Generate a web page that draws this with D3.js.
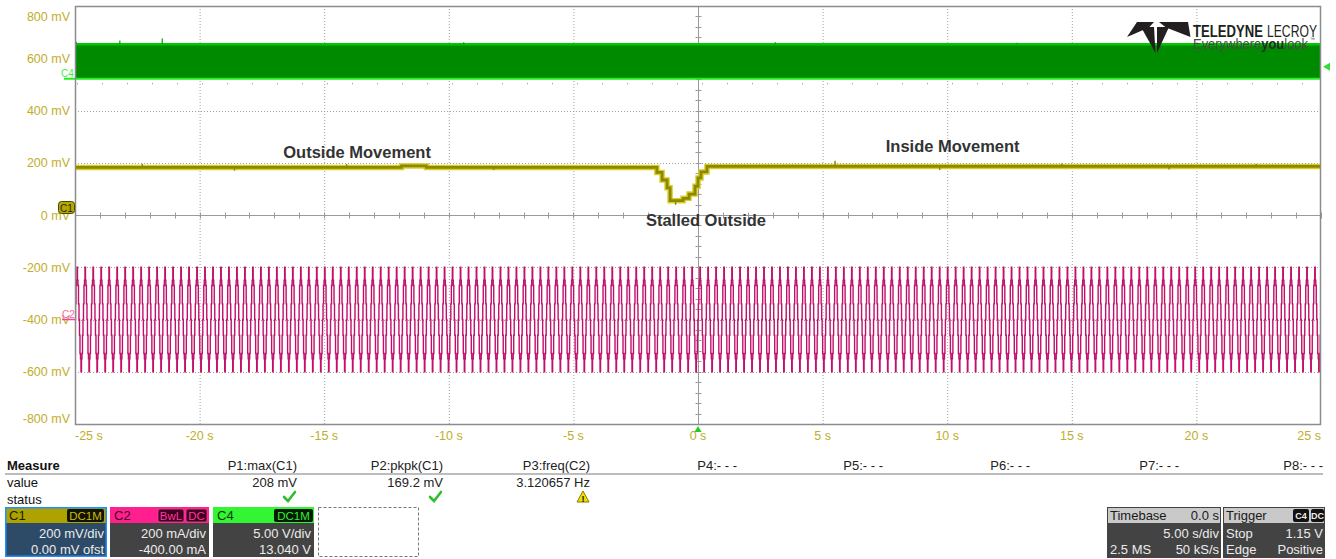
<!DOCTYPE html>
<html><head><meta charset="utf-8">
<script src="https://cdn.jsdelivr.net/npm/d3@7"></script>
<style>
body{margin:0;background:#fff;}
svg{display:block;font-family:"Liberation Sans",Arial,sans-serif;}
</style></head><body>
<svg id="scope" width="1336" height="559"></svg>
<script>
// ---- axis ticks ----
const timeTicks = [-25, -20, -15, -10, -5, 0, 5, 10, 15, 20, 25];      // s
const voltTicks = [800, 600, 400, 200, 0, -200, -400, -600, -800];      // mV (C1 grid)

// ---- C1 (mV): held levels, each value lasts until the next time ----
const c1Times  = [-25, -11.9, -10.9, -1.65, -1.44, -1.24, -1.12, -0.60, -0.36, -0.12, 0.00, 0.12, 0.36, 25];
const c1Values = [182, 188, 182, 163, 134, 104, 55, 64, 80, 110, 142, 165, 186, 186];
// short noise spikes on C1
const c1SpikeTimes  = [-22.3, -18.6, -14.1, -8.2, -0.9, 5.5, 9.7, 14.6, 18.9, 22.4];
const c1SpikeValues = [196, 170, 195, 172, 38.8, 208, 172, 197, 174, 195];

// ---- C2 (mA): one period of the stepped drive current ----
const c2CycleLevels = [0, 60, 130, 150, 200, 150, 130, 60, 0, -60, -130, -150, -200, -150, -130, -60];
const c2Freq = 3.120657; // Hz (P3 measurement)

// ---- C4 (V): PWM rails and glitches ----
const c4Levels = [3.3, 0.0];
const c4SpikeTimes  = [-24.95, -23.2, -21.5, -9.4, 3.1, 12.8];
const c4SpikeValues = [3.55, 3.65, 3.85, 3.5, 3.5, 3.45];

// ---- measurements / channel settings ----
const measNames  = ["P1:max(C1)", "P2:pkpk(C1)", "P3:freq(C2)", "P4:- - -", "P5:- - -", "P6:- - -", "P7:- - -", "P8:- - -"];
const measValues = ["208 mV", "169.2 mV", "3.120657 Hz", "", "", "", "", ""];
const measStatus = ["ok", "ok", "warn", "", "", "", "", ""];

const chNames  = ["C1", "C2", "C4"];
const chScale  = ["200 mV/div", "200 mA/div", "5.00 V/div"];
const chOffset = ["0.00 mV ofst", "-400.00 mA", "13.040 V"];

// ---- layout ----
const L = 75, R = 1321, T = 6, B = 424;
const svg = d3.select("#scope");

const x = d3.scaleLinear().domain([-25, 25]).range([L, R]);
const yC1 = d3.scaleLinear().domain([-800, 800]).range([B, T]);
// C2: 200 mA/div, offset -400 mA
const yC2 = d3.scaleLinear().domain([-4 * 200 + 400, 4 * 200 + 400]).range([B, T]);
// C4: 5 V/div, offset 13.04 V
const yC4 = d3.scaleLinear().domain([-4 * 5 - 13.04, 4 * 5 - 13.04]).range([B, T]);

// clip for traces
svg.append("defs").append("clipPath").attr("id", "plotClip")
  .append("rect").attr("x", L).attr("y", T).attr("width", R - L).attr("height", B - T);

// ---- grid ----
const grid = svg.append("g");
grid.selectAll("line.vg").data(timeTicks.filter(t => t !== 0 && t !== -25 && t !== 25)).join("line")
  .attr("x1", d => x(d) + 0.5).attr("x2", d => x(d) + 0.5).attr("y1", T).attr("y2", B)
  .attr("stroke", "#a0a0a0").attr("stroke-dasharray", "1,2");
grid.selectAll("line.hg").data(voltTicks.filter(v => v !== 0 && Math.abs(v) !== 800)).join("line")
  .attr("y1", d => Math.round(yC1(d)) + 0.5).attr("y2", d => Math.round(yC1(d)) + 0.5).attr("x1", L).attr("x2", R)
  .attr("stroke", "#a0a0a0").attr("stroke-dasharray", "1,2");

// center axes with minor ticks
const cx = Math.round(x(0)) + 0.5, cy = Math.round(yC1(0)) + 0.5;
grid.append("line").attr("x1", L).attr("x2", R).attr("y1", cy).attr("y2", cy).attr("stroke", "#9a9a9a");
grid.append("line").attr("x1", cx).attr("x2", cx).attr("y1", T).attr("y2", B).attr("stroke", "#9a9a9a");
grid.selectAll("line.mx").data(d3.range(-25, 25.001, 1)).join("line")
  .attr("x1", d => Math.round(x(d)) + 0.5).attr("x2", d => Math.round(x(d)) + 0.5)
  .attr("y1", cy - 3).attr("y2", cy + 3).attr("stroke", "#9a9a9a");
grid.selectAll("line.my").data(d3.range(-800, 800.001, 40)).join("line")
  .attr("y1", d => Math.round(yC1(d)) + 0.5).attr("y2", d => Math.round(yC1(d)) + 0.5)
  .attr("x1", cx - 3).attr("x2", cx + 3).attr("stroke", "#9a9a9a");

// ---- traces ----
const traces = svg.append("g").attr("clip-path", "url(#plotClip)");

// C4: fast PWM appears as a solid band between its rails
traces.append("rect").attr("x", L).attr("width", R - L)
  .attr("y", yC4(c4Levels[0])).attr("height", yC4(c4Levels[1]) - yC4(c4Levels[0]))
  .attr("fill", "#008a00");
traces.append("line").attr("x1", L).attr("x2", R).attr("y1", yC4(c4Levels[0])).attr("y2", yC4(c4Levels[0]))
  .attr("stroke", "#00c800").attr("stroke-width", 2.5);
traces.append("line").attr("x1", L).attr("x2", R).attr("y1", yC4(c4Levels[1])).attr("y2", yC4(c4Levels[1]))
  .attr("stroke", "#22ee22").attr("stroke-width", 2);
traces.append("line").attr("x1", L).attr("x2", R).attr("y1", yC4(c4Levels[1]) + 5).attr("y2", yC4(c4Levels[1]) + 5)
  .attr("stroke", "#6a9a6a").attr("stroke-dasharray", "1,24").attr("stroke-dashoffset", -2);
traces.selectAll("line.c4s").data(c4SpikeTimes).join("line")
  .attr("x1", d => x(d)).attr("x2", d => x(d))
  .attr("y1", yC4(c4Levels[0])).attr("y2", (d, i) => yC4(c4SpikeValues[i]))
  .attr("stroke", "#009a00").attr("stroke-width", 1.2);

// C2: stepped sinusoidal current repeated at the measured frequency
const period = 1 / c2Freq;
const stepDur = period / c2CycleLevels.length;
const c2Pts = [];
for (let k = 0, t = -25; t <= 25 + stepDur; k++, t = -25 + k * stepDur) {
  c2Pts.push([t, c2CycleLevels[k % c2CycleLevels.length]]);
}
traces.append("path").datum(c2Pts)
  .attr("d", d3.line().x(d => x(d[0])).y(d => yC2(d[1])).curve(d3.curveStepAfter))
  .attr("fill", "none").attr("stroke", "#c0106a").attr("stroke-width", 1.4);

// C1: motor load signal
const c1Pts = c1Times.map((t, i) => [t, c1Values[i]]);
const c1Line = d3.line().x(d => x(d[0])).y(d => yC1(d[1])).curve(d3.curveStepAfter);
traces.append("path").datum(c1Pts).attr("d", c1Line)
  .attr("fill", "none").attr("stroke", "#d6cf2a").attr("stroke-width", 5.5);
traces.append("path").datum(c1Pts).attr("d", c1Line)
  .attr("fill", "none").attr("stroke", "#8e8700").attr("stroke-width", 2.8);
const c1At = t => c1Values[Math.max(0, d3.bisectRight(c1Times, t) - 1)];
traces.selectAll("line.c1s").data(c1SpikeTimes).join("line")
  .attr("x1", d => x(d)).attr("x2", d => x(d))
  .attr("y1", d => yC1(c1At(d))).attr("y2", (d, i) => yC1(c1SpikeValues[i]))
  .attr("stroke", "#8e8700").attr("stroke-width", 1.4);

// frame
svg.append("rect").attr("x", L + 0.5).attr("y", T + 0.5).attr("width", R - L - 1).attr("height", B - T)
  .attr("fill", "none").attr("stroke", "#8c8c8c").attr("stroke-width", 1.5);

// ---- axis labels ----
const axisCol = "#bfae2c";
svg.selectAll("text.yl").data(voltTicks).join("text")
  .attr("x", 70).attr("y", d => Math.max(16, Math.min(418, yC1(d))) + 4.5)
  .attr("text-anchor", "end").attr("font-size", 12.5).attr("fill", axisCol)
  .text(d => `${d} mV`);
svg.selectAll("text.xl").data(timeTicks).join("text")
  .attr("x", d => x(d)).attr("y", 440)
  .attr("text-anchor", (d, i) => i === 0 ? "start" : i === timeTicks.length - 1 ? "end" : "middle")
  .attr("font-size", 12.5).attr("fill", axisCol)
  .text(d => `${d} s`);

// trigger position / level markers
svg.append("path").attr("d", `M${x(0) - 3.5},${B + 8} L${x(0) + 3.5},${B + 8} L${x(0)},${B + 2} Z`).attr("fill", "#22cc22");
svg.append("path").attr("d", `M${R + 2},${yC4(1.15)} L${R + 9},${yC4(1.15) - 4} L${R + 9},${yC4(1.15) + 4} Z`).attr("fill", "#33dd33");

// channel ground markers
const c1y = yC1(0);
svg.append("rect").attr("x", 58.5).attr("y", c1y - 13.5).attr("width", 16).attr("height", 12).attr("rx", 3)
  .attr("fill", "#b5a800").attr("stroke", "#4a4500");
svg.append("text").attr("x", 66.5).attr("y", c1y - 3.5).attr("text-anchor", "middle")
  .attr("font-size", 10).attr("fill", "#2a2800").text("C1");
const c2y = yC2(0);
svg.append("line").attr("x1", 62).attr("x2", L).attr("y1", c2y).attr("y2", c2y).attr("stroke", "#ff3fa0").attr("stroke-width", 1.5);
svg.append("text").attr("x", 62).attr("y", c2y - 1.5).attr("font-size", 10).attr("fill", "#ff5fae").text("C2");
const c4y = yC4(0);
svg.append("line").attr("x1", 64).attr("x2", L).attr("y1", c4y).attr("y2", c4y).attr("stroke", "#22ee22").attr("stroke-width", 2);
svg.append("text").attr("x", 61).attr("y", c4y - 1.5).attr("font-size", 10).attr("fill", "#44ee44").text("C4");

// ---- annotations ----
const notes = [
  { text: "Outside Movement", t: -13.68, v: 218 },
  { text: "Inside Movement", t: 10.22, v: 240 },
  { text: "Stalled Outside", t: 0.32, v: -42 }
];
svg.selectAll("text.note").data(notes).join("text")
  .attr("x", d => x(d.t)).attr("y", d => yC1(d.v))
  .attr("text-anchor", "middle").attr("font-size", 16.5).attr("font-weight", "bold").attr("fill", "#333")
  .text(d => d.text);

// ---- logo ----
const logo = svg.append("g").attr("fill", "#231f20");
logo.append("path").attr("d", "M1137,22 L1154,22 L1149,27.5 L1127,37 Z");
logo.append("path").attr("d", "M1159,22 L1188,22 L1190.5,37 L1166,27.5 Z");
logo.append("path").attr("d", "M1141,27 L1154,27 L1155.5,53 Z");
logo.append("path").attr("d", "M1157,27 L1169,27 L1157,53 Z");
svg.append("text").attr("x", 1193).attr("y", 37).attr("font-size", 17).attr("font-weight", "bold")
  .attr("fill", "#231f20").attr("textLength", 70).attr("lengthAdjust", "spacingAndGlyphs").text("TELEDYNE");
svg.append("text").attr("x", 1267).attr("y", 37).attr("font-size", 17)
  .attr("fill", "#231f20").attr("textLength", 50).attr("lengthAdjust", "spacingAndGlyphs").text("LECROY");
const tag = svg.append("text").attr("x", 1193).attr("y", 49).attr("font-size", 14).attr("fill", "#4a4a4a")
  .attr("textLength", 115).attr("lengthAdjust", "spacingAndGlyphs");
tag.append("tspan").text("Everywhere");
tag.append("tspan").attr("font-weight", "bold").attr("fill", "#2a2a2a").text("you");
tag.append("tspan").text("look");
svg.append("text").attr("x", 1310).attr("y", 41).attr("font-size", 5).attr("fill", "#4a4a4a").text("™");

// ---- measurement table ----
const mRight = [297, 443, 590, 737, 883, 1030, 1179, 1323];
svg.append("text").attr("x", 7).attr("y", 470).attr("font-size", 13).attr("font-weight", "bold").attr("fill", "#111").text("Measure");
svg.append("line").attr("x1", 5).attr("x2", 1323).attr("y1", 474).attr("y2", 474).attr("stroke", "#bdbdbd").attr("stroke-width", 2);
svg.append("text").attr("x", 7).attr("y", 487).attr("font-size", 13).attr("fill", "#111").text("value");
svg.append("text").attr("x", 7).attr("y", 504).attr("font-size", 13).attr("fill", "#111").text("status");
svg.selectAll("text.mn").data(measNames).join("text")
  .attr("x", (d, i) => mRight[i]).attr("y", 470).attr("text-anchor", "end")
  .attr("font-size", 13).attr("fill", "#222").text(d => d);
svg.selectAll("text.mv").data(measValues).join("text")
  .attr("x", (d, i) => mRight[i]).attr("y", 487).attr("text-anchor", "end")
  .attr("font-size", 13).attr("fill", "#222").text(d => d);
measStatus.forEach((s, i) => {
  const cxs = mRight[i] - 7;
  if (s === "ok") {
    svg.append("path").attr("d", `M${cxs - 6},${497} L${cxs - 2},${501} L${cxs + 5},${492}`)
      .attr("fill", "none").attr("stroke", "#2cc02c").attr("stroke-width", 2.6).attr("stroke-linecap", "round");
  } else if (s === "warn") {
    svg.append("path").attr("d", `M${cxs},${491} L${cxs + 6},${502} L${cxs - 6},${502} Z`)
      .attr("fill", "#f2de00").attr("stroke", "#8a7a00").attr("stroke-width", 1);
    svg.append("text").attr("x", cxs).attr("y", 501.5).attr("text-anchor", "middle")
      .attr("font-size", 9).attr("font-weight", "bold").attr("fill", "#111").text("!");
  }
});

// ---- channel descriptor boxes ----
const boxX = [5, 110, 213], boxW = [102, 99, 101];
const headFill = ["#ada200", "#ff1f8e", "#33f533"];
const headText = ["#1e1c00", "#3a0620", "#053a05"];
const badges = [
  [{ t: "DC1M", x: 67, w: 37 }],
  [{ t: "BwL", x: 158, w: 26 }, { t: "DC", x: 186, w: 21 }],
  [{ t: "DC1M", x: 274, w: 39 }]
];
const badgeFill = ["#141200", "#3d0020", "#041a04"];
const badgeText = ["#c8bc10", "#ff3a9c", "#33ee33"];
chNames.forEach((n, i) => {
  const g = svg.append("g");
  g.append("rect").attr("x", boxX[i]).attr("y", 523).attr("width", boxW[i]).attr("height", 34)
    .attr("fill", i === 0 ? "#2d4a66" : "#434343");
  g.append("rect").attr("x", boxX[i]).attr("y", 507).attr("width", boxW[i]).attr("height", 16).attr("fill", headFill[i]);
  if (i === 0) {
    g.append("rect").attr("x", boxX[i] + 0.75).attr("y", 507.75).attr("width", boxW[i] - 1.5).attr("height", 48.5)
      .attr("fill", "none").attr("stroke", "#1f8fff").attr("stroke-width", 1.5);
  }
  g.append("text").attr("x", boxX[i] + 4).attr("y", 520).attr("font-size", 13).attr("fill", headText[i]).text(n);
  badges[i].forEach(b => {
    g.append("rect").attr("x", b.x).attr("y", 509).attr("width", b.w).attr("height", 13).attr("rx", 2)
      .attr("fill", badgeFill[i]).attr("stroke", i === 1 ? "#ff3a9c" : "none").attr("stroke-width", 0.8);
    g.append("text").attr("x", b.x + b.w / 2).attr("y", 519.5).attr("text-anchor", "middle")
      .attr("font-size", 11.5).attr("fill", badgeText[i]).text(b.t);
  });
  g.append("text").attr("x", boxX[i] + boxW[i] - 3).attr("y", 538).attr("text-anchor", "end")
    .attr("font-size", 13).attr("fill", "#ececec").text(chScale[i]);
  g.append("text").attr("x", boxX[i] + boxW[i] - 3).attr("y", 554).attr("text-anchor", "end")
    .attr("font-size", 13).attr("fill", "#ececec").text(chOffset[i]);
});
svg.append("rect").attr("x", 318.5).attr("y", 507.5).attr("width", 100).attr("height", 49)
  .attr("fill", "none").attr("stroke", "#777").attr("stroke-dasharray", "3,2");

// ---- timebase / trigger boxes ----
function infoBox(x0, w, head, headRight, row1, row2) {
  const g = svg.append("g");
  g.append("rect").attr("x", x0).attr("y", 507).attr("width", w).attr("height", 51).attr("fill", "#434343");
  g.append("rect").attr("x", x0 + 1).attr("y", 508).attr("width", w - 2).attr("height", 15).attr("fill", "#c9c9c9");
  g.append("text").attr("x", x0 + 3).attr("y", 520).attr("font-size", 13).attr("fill", "#1a1a1a").text(head);
  headRight(g);
  [row1, row2].forEach((r, k) => {
    const yy = 538 + k * 16;
    if (r[0]) g.append("text").attr("x", x0 + 3).attr("y", yy).attr("font-size", 13).attr("fill", "#ececec").text(r[0]);
    if (r[1]) g.append("text").attr("x", x0 + w - 2).attr("y", yy).attr("text-anchor", "end")
      .attr("font-size", 13).attr("fill", "#ececec").text(r[1]);
  });
}
infoBox(1107, 114, "Timebase",
  g => g.append("text").attr("x", 1219).attr("y", 520).attr("text-anchor", "end").attr("font-size", 13).attr("fill", "#1a1a1a").text("0.0 s"),
  ["", "5.00 s/div"], ["2.5 MS", "50 kS/s"]);
infoBox(1223, 102, "Trigger",
  g => {
    [{ t: "C4", x: 1293, w: 16 }, { t: "DC", x: 1311, w: 13 }].forEach(b => {
      g.append("rect").attr("x", b.x).attr("y", 509).attr("width", b.w).attr("height", 13).attr("rx", 2).attr("fill", "#111");
      g.append("text").attr("x", b.x + b.w / 2).attr("y", 519).attr("text-anchor", "middle")
        .attr("font-size", 9).attr("font-weight", "bold").attr("fill", "#eee").text(b.t);
    });
  },
  ["Stop", "1.15 V"], ["Edge", "Positive"]);
</script>
</body></html>
